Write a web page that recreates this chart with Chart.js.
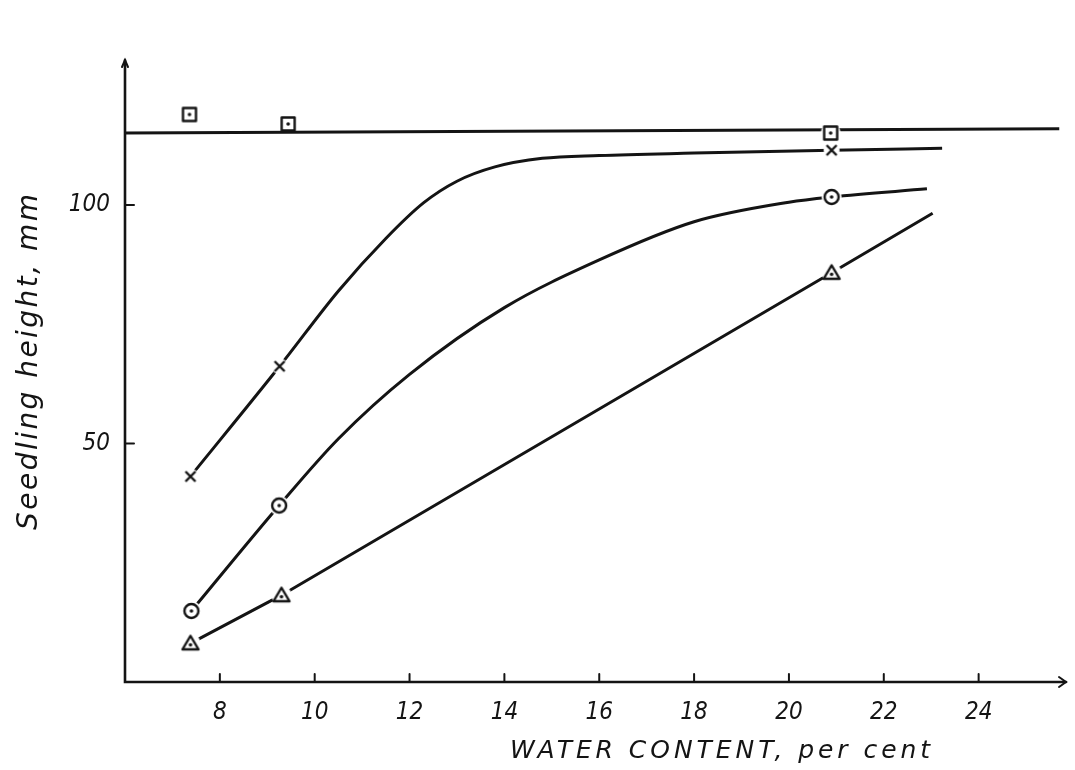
<!DOCTYPE html>
<html>
<head>
<meta charset="utf-8">
<script src="https://cdn.jsdelivr.net/npm/chart.js@4.4.1/dist/chart.umd.min.js"></script>
<style>
  html, body { margin: 0; background: #fff; }
</style>
</head>
<body>
<canvas id="chart" width="1075" height="770"></canvas>
<script>
// Seedling height vs. water content: measured points and hand-drawn curves

// measured points
const squareX   = [7.36, 9.44, 20.88];
const squareY   = [119.0, 117.0, 115.1];
const crossX    = [7.38, 9.26, 20.9];
const crossY    = [43.1, 66.2, 111.5];
const circleX   = [7.40, 9.25, 20.9];
const circleY   = [14.9, 37.0, 101.7];
const triangleX = [7.38, 9.30, 20.9];
const triangleY = [8.1, 18.2, 85.8];

// curves as drawn on the sheet
const flatLineX    = [6.0, 25.7];
const flatLineY    = [115.1, 116.0];
const crossCurveX  = [7.38, 9.26, 10.5, 11.5, 12.3, 13.0, 13.8, 14.8, 16.0, 18.0, 20.9, 23.23];
const crossCurveY  = [43.1, 66.2, 82.0, 93.0, 100.5, 105.0, 108.0, 109.8, 110.4, 110.9, 111.5, 111.9];
const circleCurveX = [7.40, 9.25, 10.5, 12.0, 14.0, 16.0, 18.0, 20.0, 20.9, 22.91];
const circleCurveY = [14.9, 37.0, 51.0, 64.5, 78.5, 88.5, 96.5, 100.6, 101.7, 103.4];
const triLineX     = [7.38, 9.30, 20.9, 23.03];
const triLineY     = [8.1, 18.2, 85.8, 98.3];

// axis ticks
const xTicks = [8, 10, 12, 14, 16, 18, 20, 22, 24];
const yTicks = [50, 100];

const INK = '#141414';
const FONT = "'DejaVu Sans Condensed', 'Liberation Sans Narrow', 'DejaVu Sans', sans-serif";
const TITLE_FONT = "'DejaVu Sans', 'Liberation Sans', sans-serif";

const pts = (xs, ys) => xs.map((x, i) => ({ x, y: ys[i] }));

// marker glyphs, with a white halo so the line stops short of the symbol
function marker(kind, halo) {
  const s = 32, m = s / 2;
  const c = document.createElement('canvas');
  c.width = c.height = s;
  const g = c.getContext('2d');
  if (halo) {
    g.fillStyle = '#fff';
    g.beginPath(); g.arc(m, m, halo, 0, Math.PI * 2); g.fill();
  }
  g.strokeStyle = INK; g.fillStyle = INK; g.lineWidth = 2.4; g.lineJoin = 'round';
  let dot = true;
  if (kind === 'square') {
    g.strokeRect(m - 6.5, m - 6.5, 13, 13);
  } else if (kind === 'circle') {
    g.beginPath(); g.arc(m, m, 7, 0, Math.PI * 2); g.stroke();
  } else if (kind === 'triangle') {
    g.beginPath(); g.moveTo(m, m - 7.5); g.lineTo(m + 8, m + 6); g.lineTo(m - 8, m + 6); g.closePath(); g.stroke();
  } else {
    dot = false;
    g.beginPath();
    g.moveTo(m - 5, m - 5); g.lineTo(m + 5, m + 5);
    g.moveTo(m + 5, m - 5); g.lineTo(m - 5, m + 5);
    g.stroke();
  }
  if (dot) { g.beginPath(); g.arc(m, m + (kind === 'triangle' ? 1.5 : 0), 1.8, 0, Math.PI * 2); g.fill(); }
  return c;
}

const sq = marker('square', 10), sqBare = marker('square', 0);
const cr = marker('cross', 8), ci = marker('circle', 10), tr = marker('triangle', 10);

const curve = (data, smooth) => ({
  type: 'line', data, order: 2,
  borderColor: INK, borderWidth: 3, pointRadius: 0,
  cubicInterpolationMode: smooth ? 'monotone' : 'default', tension: 0, fill: false
});
const dots = (data, styles) => ({
  type: 'scatter', data, order: 1,
  pointStyle: styles, pointRadius: 10, pointHoverRadius: 10
});

// spread lettering out to a given run length, like stencil text
function spacedText(ctx, text, x, y, width) {
  ctx.letterSpacing = '0px';
  const w = ctx.measureText(text).width;
  ctx.letterSpacing = Math.max(0, (width - w) / (text.length - 1)).toFixed(2) + 'px';
  ctx.fillText(text, x, y);
  ctx.letterSpacing = '0px';
}

// axes with inward tick marks, arrowheads and the two titles
const axesPlugin = {
  id: 'axes',
  afterDraw(chart) {
    const { ctx, chartArea: a, scales: { x, y } } = chart;
    ctx.save();
    ctx.strokeStyle = INK; ctx.lineWidth = 2.6; ctx.lineCap = 'round';
    ctx.beginPath();
    ctx.moveTo(a.left, a.top - 2); ctx.lineTo(a.left, a.bottom); ctx.lineTo(a.right + 2, a.bottom);
    ctx.stroke();
    ctx.lineWidth = 2;
    ctx.beginPath();
    ctx.moveTo(a.right - 5, a.bottom - 5); ctx.lineTo(a.right + 2, a.bottom); ctx.lineTo(a.right - 5, a.bottom + 5);
    ctx.moveTo(a.left - 3, a.top + 5); ctx.lineTo(a.left, a.top - 2); ctx.lineTo(a.left + 3, a.top + 5);
    ctx.stroke();
    xTicks.forEach(v => {
      const px = x.getPixelForValue(v);
      ctx.beginPath(); ctx.moveTo(px, a.bottom); ctx.lineTo(px, a.bottom - 8); ctx.stroke();
    });
    yTicks.forEach(v => {
      const py = y.getPixelForValue(v);
      ctx.beginPath(); ctx.moveTo(a.left, py); ctx.lineTo(a.left + 9, py); ctx.stroke();
    });
    ctx.fillStyle = INK;
    ctx.font = 'italic 25px ' + TITLE_FONT;
    ctx.textAlign = 'left'; ctx.textBaseline = 'alphabetic';
    spacedText(ctx, 'WATER CONTENT, per cent', 510, 758, 420);
    ctx.translate(37, 530); ctx.rotate(-Math.PI / 2);
    ctx.font = 'italic 28px ' + TITLE_FONT;
    spacedText(ctx, 'Seedling height, mm', 0, 0, 336);
    ctx.restore();
  }
};

new Chart(document.getElementById('chart'), {
  data: {
    datasets: [
      curve(pts(flatLineX, flatLineY), false),
      curve(pts(crossCurveX, crossCurveY), true),
      curve(pts(circleCurveX, circleCurveY), true),
      curve(pts(triLineX, triLineY), false),
      dots(pts(squareX, squareY), [sq, sqBare, sq]),
      dots(pts(crossX, crossY), [cr, cr, cr]),
      dots(pts(circleX, circleY), [ci, ci, ci]),
      dots(pts(triangleX, triangleY), [tr, tr, tr])
    ]
  },
  options: {
    responsive: false,
    animation: false,
    devicePixelRatio: 1,
    layout: { padding: { top: 62, right: 5, left: 0, bottom: 0 } },
    plugins: { legend: { display: false }, tooltip: { enabled: false } },
    scales: {
      x: {
        type: 'linear', min: 6, max: 25.8,
        grid: { display: false, drawTicks: false },
        border: { display: false },
        afterBuildTicks: s => { s.ticks = xTicks.map(value => ({ value })); },
        afterFit: s => { s.height = 88; },
        ticks: { color: INK, padding: 16, font: { family: FONT, size: 24, style: 'italic' } }
      },
      y: {
        type: 'linear', min: 0, max: 130,
        grid: { display: false, drawTicks: false },
        border: { display: false },
        afterBuildTicks: s => { s.ticks = yTicks.map(value => ({ value })); },
        afterFit: s => { s.width = 125; },
        ticks: { color: INK, padding: 15, font: { family: FONT, size: 24, style: 'italic' } }
      }
    }
  },
  plugins: [axesPlugin]
});
</script>
</body>
</html>
